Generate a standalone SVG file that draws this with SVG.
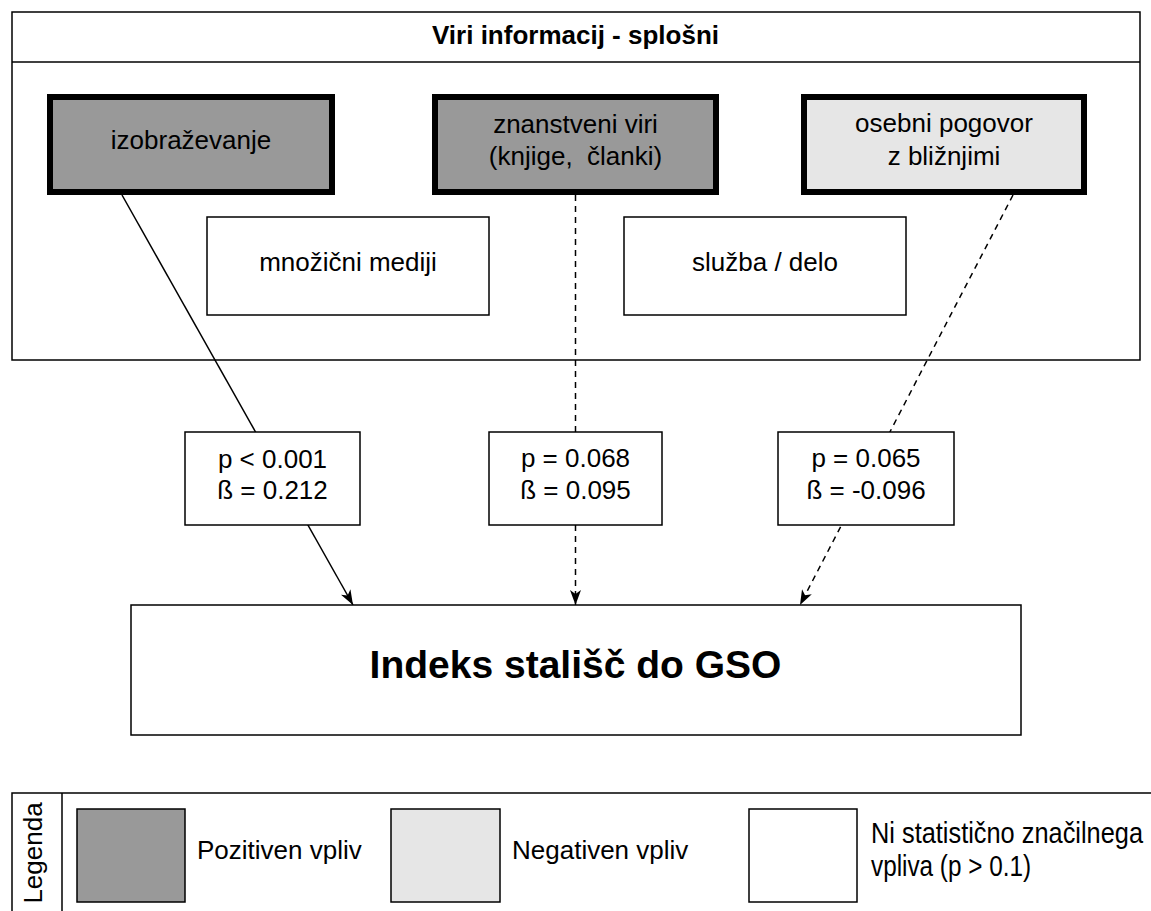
<svg xmlns="http://www.w3.org/2000/svg" width="1151" height="911" viewBox="0 0 1151 911">
  <style>
    text { font-family: "Liberation Sans", Arial, Helvetica, sans-serif; fill: #000; }
    .box { fill: #fff; stroke: #000; stroke-width: 1.5; }
    .src { stroke: #000; stroke-width: 6; }
    .pos { fill: #999999; }
    .neg { fill: #e6e6e6; }
    .lbl { font-size: 26px; text-anchor: middle; }
    .edge { fill: none; stroke: #000; stroke-width: 1.5; }
    .dash { stroke-dasharray: 6 5; }
    .pre { white-space: pre; }
  </style>
  <defs>
    <marker id="arrow" viewBox="0 0 15 11" refX="15" refY="5.5" markerWidth="15" markerHeight="11" markerUnits="userSpaceOnUse" orient="auto">
      <path d="M0,0 L15,5.5 L0,11 L4,5.5 Z" fill="#000" stroke="none"/>
    </marker>
  </defs>

  <rect width="1151" height="911" fill="#fff"/>

  <!-- container: general information sources -->
  <g id="viri-informacij">
    <rect class="box" x="12" y="12" width="1128" height="348"/>
    <line x1="12" y1="62" x2="1140" y2="62" stroke="#000" stroke-width="1.5"/>
    <text x="575.5" y="44" font-size="26" font-weight="bold" text-anchor="middle">Viri informacij - splošni</text>
  </g>

  <g id="izobrazevanje">
    <rect class="src pos" x="50" y="97" width="282" height="95"/>
    <text class="lbl" x="191" y="149">izobraževanje</text>
  </g>

  <g id="znanstveni-viri">
    <rect class="src pos" x="435" y="97" width="281" height="95"/>
    <text class="lbl pre" x="575.5" y="133">znanstveni viri</text>
    <text class="lbl pre" x="575.5" y="165">(knjige,  članki)</text>
  </g>

  <g id="osebni-pogovor">
    <rect class="src neg" x="804" y="97" width="280" height="95"/>
    <text class="lbl" x="944" y="132">osebni pogovor</text>
    <text class="lbl" x="944" y="164.5">z bližnjimi</text>
  </g>

  <g id="mnozicni-mediji">
    <rect class="box" x="207" y="217" width="282" height="98"/>
    <text class="lbl" x="348" y="271">množični mediji</text>
  </g>

  <g id="sluzba-delo">
    <rect class="box" x="624" y="217" width="282" height="98"/>
    <text class="lbl" x="765" y="271">služba / delo</text>
  </g>

  <!-- connectors -->
  <g id="connectors">
    <line class="edge" x1="122" y1="195" x2="353" y2="605" marker-end="url(#arrow)"/>
    <line class="edge dash" x1="575.5" y1="195" x2="575.5" y2="605" marker-end="url(#arrow)"/>
    <line class="edge dash" x1="1013" y1="195" x2="800" y2="605" marker-end="url(#arrow)"/>
  </g>

  <!-- edge labels -->
  <g id="label-izobrazevanje">
    <rect class="box" x="185" y="432" width="175" height="93"/>
    <text class="lbl" x="272.5" y="468">p &lt; 0.001</text>
    <text class="lbl" x="272.5" y="499">ß = 0.212</text>
  </g>

  <g id="label-znanstveni">
    <rect class="box" x="489" y="432" width="173" height="93"/>
    <text class="lbl" x="575.5" y="467">p = 0.068</text>
    <text class="lbl" x="575.5" y="499">ß = 0.095</text>
  </g>

  <g id="label-osebni">
    <rect class="box" x="778" y="432" width="176" height="93"/>
    <text class="lbl" x="866" y="467">p = 0.065</text>
    <text class="lbl" x="866" y="499">ß = -0.096</text>
  </g>

  <!-- outcome -->
  <g id="indeks-stalisc">
    <rect class="box" x="131" y="605" width="890" height="130"/>
    <text x="575.5" y="678" font-size="39" font-weight="bold" text-anchor="middle">Indeks stališč do GSO</text>
  </g>

  <!-- legend -->
  <g id="legenda">
    <path d="M1151,793 H12 V911 M62,793 V911" fill="none" stroke="#000" stroke-width="1.5"/>
    <text x="42" y="853" font-size="26" text-anchor="middle" transform="rotate(-90 42 853)">Legenda</text>
    <rect class="pos" x="77" y="809" width="108" height="93" stroke="#000" stroke-width="1.5"/>
    <text x="197" y="859" font-size="26">Pozitiven vpliv</text>
    <rect class="neg" x="391" y="809" width="109" height="93" stroke="#000" stroke-width="1.5"/>
    <text x="512" y="859" font-size="26">Negativen vpliv</text>
    <rect class="box" x="749" y="809" width="108" height="93"/>
    <text x="871" y="843" font-size="29" textLength="272" lengthAdjust="spacingAndGlyphs">Ni statistično značilnega</text>
    <text x="871" y="876" font-size="29" textLength="160" lengthAdjust="spacingAndGlyphs">vpliva (p &gt; 0.1)</text>
  </g>
</svg>
